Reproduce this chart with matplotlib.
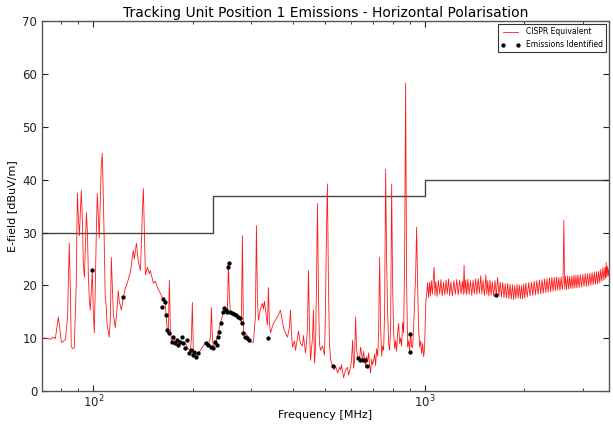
import matplotlib
matplotlib.use("Agg")
import matplotlib.pyplot as plt
from matplotlib.ticker import LogLocator, NullFormatter

# ---- data -------------------------------------------------------------
freq_lo = [70.1, 72.1, 74.2, 75.7, 76.8, 78.4, 79.5, 80.1, 81.2, 82.4, 83.6, 84.6, 85.2, 85.8,
           87.0, 87.6, 88.8, 89.5, 90.1, 90.8, 91.4, 92.0, 92.7, 93.3, 94.0, 94.6, 95.3, 96.0,
           96.6, 97.3, 97.9, 98.6, 99.3, 100.0, 100.7, 101.4, 102.1, 102.8, 103.5, 104.2, 105.0,
           105.7, 106.4, 107.1, 107.9, 108.6, 109.4, 110.1, 111.7, 112.6, 113.3, 114.1, 114.9,
           116.5, 118.1, 118.9, 119.8, 121.5, 123.2, 124.9, 126.7, 129.3, 132.0, 133.0, 134.9,
           136.8, 138.7, 139.7, 140.6, 141.6, 142.6, 143.6, 145.6, 147.6, 148.6, 151.8, 153.9,
           156.0, 159.3, 162.7, 164.9, 166.1, 167.2, 168.4, 169.6, 170.8, 172.0, 174.4, 176.8,
           179.3, 183.1, 186.9, 189.6, 192.2, 196.3, 197.7, 199.0, 200.4, 203.3, 206.1, 210.4,
           214.9, 217.9, 222.5, 225.6, 227.2, 228.8, 230.4, 235.2, 238.5, 241.8, 246.9, 250.4,
           253.9, 255.6, 257.4, 259.3, 264.7, 268.4, 274.0, 277.9, 279.8, 281.8, 283.8, 287.7,
           293.8, 297.9, 304.2, 308.4, 310.6, 312.7, 314.9, 319.4, 323.8, 326.1, 328.4, 333.0,
           335.3, 337.6, 340.0, 342.4, 349.6, 359.4, 367.0, 374.8, 380.0, 385.4, 390.7, 393.5,
           396.2, 399.0, 404.6, 407.4, 413.2, 416.0, 421.8, 427.7, 430.7, 436.8, 439.8, 442.9,
           446.0, 449.1, 452.2, 455.4, 458.5, 461.7, 465.0, 468.2, 471.5, 474.8, 478.1, 481.4,
           484.7, 491.5, 498.4, 501.8, 505.3, 508.8, 512.4, 516.0, 520.0, 527.3, 534.6, 538.4,
           545.9, 553.5, 557.4, 561.3, 569.1, 577.0, 585.1, 589.2, 597.6, 601.7, 606.0, 610.2,
           614.4, 618.7, 623.0, 627.4, 636.2, 640.6, 645.1, 649.6, 654.1, 658.7, 663.3, 667.9,
           672.6, 677.3, 682.0, 686.8, 691.6, 696.4, 701.3, 706.2, 711.1, 716.1, 721.1, 726.1,
           731.2, 736.2, 741.4, 746.5, 751.7, 757.0, 762.3, 767.6, 773.0, 778.4, 783.8, 789.3,
           794.8, 800.3, 806.0, 811.6, 817.2, 822.9, 828.6, 834.4, 840.2, 846.1, 852.0, 857.9,
           863.9, 869.9, 876.0, 882.1, 888.3, 894.5, 900.7, 907.0, 913.3, 919.7, 926.1, 932.6,
           939.1, 945.6, 952.2, 958.8, 965.5, 972.5, 979.3, 986.1, 993.0, 999.0]
level_lo = [10.0, 10.0, 9.8, 10.2, 9.9, 14.0, 11.0, 9.2, 9.4, 9.8, 14.0, 28.0, 20.0, 8.3,
            8.0, 8.3, 20.0, 37.5, 33.0, 29.4, 34.0, 38.0, 32.0, 24.0, 21.5, 27.0, 33.8, 30.0,
            22.0, 17.0, 15.3, 19.0, 22.8, 15.0, 11.0, 20.0, 30.0, 37.4, 33.0, 29.0, 36.0,
            43.0, 45.0, 38.0, 28.0, 18.0, 16.0, 12.5, 10.2, 14.0, 25.3, 20.0, 14.7,
            12.0, 16.0, 19.0, 17.0, 15.3, 17.8, 19.5, 20.5, 22.5, 26.6, 25.0, 28.0,
            24.5, 22.8, 28.0, 34.0, 38.3, 30.0, 22.0, 23.4, 22.2, 22.8, 20.4, 20.8,
            19.6, 18.5, 17.2, 16.6, 14.0, 11.5, 10.8, 21.0, 12.0, 9.6, 10.0, 9.4,
            9.2, 9.5, 8.7, 9.0, 8.3, 7.4, 10.0, 16.8, 7.2, 6.9, 6.8, 7.7,
            8.6, 9.2, 8.8, 10.0, 15.8, 10.0, 8.3, 9.6, 11.0, 12.8, 15.0, 15.0,
            15.3, 24.0, 18.0, 14.7, 14.6, 14.4, 14.0, 13.8, 12.8, 29.4, 11.2, 11.0,
            10.2, 9.3, 9.2, 14.0, 31.3, 18.0, 13.4, 15.5, 16.6, 15.5, 17.0, 14.0,
            12.5, 19.6, 13.0, 11.0, 12.8, 14.0, 15.3, 12.0, 11.0, 10.2, 12.0, 15.3,
            11.0, 8.3, 9.5, 7.7, 10.0, 11.3, 9.0, 8.5, 10.5, 7.2, 9.0, 12.0,
            22.8, 12.0, 5.8, 8.0, 10.0, 15.3, 5.3, 8.0, 20.0, 35.5, 18.0, 9.0,
            7.7, 8.5, 6.8, 15.0, 30.0, 39.2, 20.0, 9.0, 6.0, 4.6, 4.0, 4.8,
            3.4, 4.5, 4.0, 5.0, 2.5, 4.0, 4.5, 3.0, 4.5, 6.0, 9.6, 4.3,
            6.0, 14.0, 8.0, 6.4, 6.0, 8.3, 7.0, 5.8, 7.5, 6.0, 4.5, 6.5,
            5.5, 7.2, 5.0, 3.4, 6.0, 5.0, 5.8, 7.0, 4.8, 8.0, 6.6, 11.0,
            25.3, 12.0, 6.6, 8.5, 7.7, 15.0, 42.0, 25.0, 14.7, 9.0, 7.7, 12.0,
            39.2, 20.0, 11.0, 8.0, 9.5, 7.5, 11.0, 12.8, 9.0, 10.0, 8.5, 13.0,
            11.0, 24.7, 58.3, 20.0, 8.3, 9.5, 7.5, 11.0, 8.5, 8.2, 12.0, 17.2,
            22.0, 31.0, 20.0, 12.0, 8.3, 9.5, 7.0, 9.0, 6.5, 8.0]

freq_hi = [1003, 1008, 1014, 1020, 1027, 1034, 1040, 1047, 1055, 1062, 1068, 1074, 1080,
           1090, 1100, 1110, 1120, 1130, 1140, 1150, 1160, 1170, 1180, 1190, 1200, 1212,
           1225, 1237, 1250, 1262, 1275, 1287, 1300, 1308, 1315, 1322, 1330, 1340, 1350,
           1362, 1375, 1387, 1400, 1412, 1425, 1437, 1450, 1463, 1476, 1488, 1500, 1515,
           1530, 1540, 1550, 1562, 1575, 1587, 1600, 1615, 1630, 1645, 1660, 1675, 1690,
           1705, 1720, 1735, 1750, 1765, 1780, 1795, 1810, 1825, 1840, 1855, 1870, 1885,
           1900, 1915, 1930, 1945, 1960, 1975, 1990, 2005, 2020, 2040, 2060, 2080, 2100,
           2120, 2140, 2160, 2180, 2200, 2220, 2240, 2260, 2280, 2300, 2320, 2340, 2360,
           2380, 2400, 2420, 2440, 2460, 2480, 2500, 2520, 2540, 2560, 2580, 2600, 2615,
           2630, 2645, 2660, 2680, 2700, 2720, 2740, 2760, 2780, 2800, 2820, 2840, 2860,
           2880, 2900, 2925, 2950, 2975, 3000, 3025, 3050, 3075, 3100, 3125, 3150, 3175,
           3200, 3225, 3250, 3275, 3300, 3325, 3350, 3375, 3400, 3425, 3450, 3475, 3500,
           3515, 3530, 3545, 3560, 3580, 3600]
level_hi = [12.0, 17.0, 18.4, 20.5, 17.7, 20.6, 18.0, 20.9, 18.3, 21.5, 23.4, 18.1, 20.7,
            17.9, 20.9, 18.3, 21.1, 18.0, 20.6, 18.2, 21.0, 18.4, 21.2, 18.1, 20.6, 18.0,
            20.9, 18.3, 21.1, 18.2, 21.0, 18.4, 20.8, 18.3, 23.8, 18.5, 21.0, 18.2, 21.2,
            18.3, 20.9, 18.1, 21.0, 18.4, 21.2, 18.3, 21.3, 18.5, 21.8, 18.4, 20.9, 18.1,
            22.0, 18.3, 20.9, 18.0, 21.0, 18.1, 20.7, 17.9, 20.9, 18.1, 21.5, 17.9, 20.6,
            17.8, 20.5, 17.7, 20.3, 17.6, 20.4, 17.5, 20.2, 17.4, 20.1, 17.3, 20.0, 17.5,
            20.2, 17.6, 20.1, 17.5, 20.0, 17.4, 20.3, 17.6, 20.4, 17.8, 20.5, 18.0, 20.6,
            18.1, 20.8, 18.2, 20.9, 18.3, 21.0, 18.4, 21.1, 18.5, 21.2, 18.6, 21.3, 18.7,
            21.4, 18.8, 21.5, 18.9, 21.5, 19.0, 21.6, 19.1, 21.5, 19.1, 21.6, 19.2, 20.6,
            32.3, 19.3, 21.7, 19.2, 21.8, 19.3, 21.7, 19.4, 21.8, 19.4, 21.9, 19.5, 21.9,
            19.5, 22.0, 19.6, 22.0, 19.7, 22.1, 19.8, 22.2, 19.8, 22.2, 19.9, 22.3, 20.0,
            22.4, 20.1, 22.5, 20.2, 22.6, 20.3, 22.7, 20.5, 23.0, 20.8, 23.3, 21.0, 23.4,
            21.3, 24.3, 21.6, 23.6, 21.8, 23.2]

limit_freq = [70, 230, 230, 1000, 1000, 3600]
limit_level = [30, 30, 37, 37, 40, 40]

emis_freq = [99.3, 123.2, 161.5, 162.7, 164.9, 166.1, 167.2, 169.6, 173.2, 174.4, 176.8,
             179.3, 180.5, 183.1, 185.7, 186.9, 189.6, 192.2, 194.9, 197.7, 200.4, 201.8,
             204.7, 207.6, 219.4, 222.5, 227.2, 230.4, 233.6, 236.8, 238.5, 240.1, 243.5,
             246.9, 248.6, 252.1, 253.9, 255.6, 257.4, 259.3, 262.9, 266.6, 270.3, 274.0,
             277.9, 281.8, 283.8, 287.7, 291.8, 295.8, 337.6, 527.3, 627.4, 636.2, 649.6,
             658.7, 667.9, 900.7, 902.0, 1639]
emis_level = [23.0, 17.8, 15.9, 17.5, 16.8, 14.3, 11.5, 10.9, 9.3, 10.2, 9.0,
              9.6, 8.7, 9.3, 10.2, 9.0, 8.1, 9.6, 7.2, 7.7, 6.8, 7.4,
              6.4, 7.2, 9.0, 8.7, 8.3, 8.1, 9.3, 8.7, 10.2, 11.1, 12.8,
              14.9, 15.7, 15.3, 15.0, 23.4, 24.2, 14.9, 14.7, 14.6, 14.3, 14.0,
              13.8, 12.8, 10.9, 10.2, 10.0, 9.6, 10.0, 4.7, 6.2, 5.8, 5.8,
              5.8, 4.7, 10.8, 7.4, 18.1]

# ---- plot ---------------------------------------------------------------
fig = plt.figure(figsize=(6.13, 4.25), dpi=100)
ax = fig.add_axes([0.0685, 0.080, 0.925, 0.870])

ax.plot(freq_lo + freq_hi, level_lo + level_hi, color='#ff1a1a', lw=0.6,
        label='CISPR Equivalent', zorder=2)
ax.plot(limit_freq, limit_level, color='#444444', lw=1.0, zorder=1)
ax.plot(emis_freq, emis_level, 'o', color='black', ms=2.1, mec='black',
        label='Emissions Identified', zorder=3)

ax.set_xscale('log')
ax.set_xlim(70, 3600)
ax.set_ylim(0, 70)
ax.set_yticks(range(0, 71, 10))
ax.xaxis.set_major_locator(LogLocator(base=10))
ax.xaxis.set_minor_formatter(NullFormatter())
ax.tick_params(which='both', direction='in', top=True, right=True,
               labelsize=8.5, colors='#222222')
ax.tick_params(axis='x', which='both', pad=2)
ax.tick_params(which='major', length=4)
ax.tick_params(which='minor', length=2)
for s in ax.spines.values():
    s.set_color('#555555')
    s.set_linewidth(1.0)

ax.set_title('Tracking Unit Position 1 Emissions - Horizontal Polarisation',
             fontsize=10, pad=3)
ax.set_xlabel('Frequency [MHz]', fontsize=8, labelpad=0)
ax.set_ylabel('E-field [dBuV/m]', fontsize=8, labelpad=4)

leg = ax.legend(loc='upper right', fontsize=5.5, numpoints=2, fancybox=False,
                framealpha=1, borderaxespad=0.4, handlelength=2.5)
leg.get_frame().set_edgecolor('#333333')
leg.get_frame().set_linewidth(0.8)

fig.savefig('out.png', dpi=100)
